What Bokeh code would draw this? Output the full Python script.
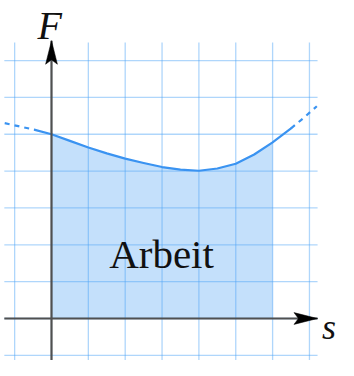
from bokeh.plotting import figure
from bokeh.models import Range1d
from bokeh.core.properties import value
from bokeh.embed import file_html
from bokeh.resources import INLINE

# ---- data ----
grid_s = [-1, 0, 1, 2, 3, 4, 5, 6, 7]
grid_F = [-1, 0, 1, 2, 3, 4, 5, 6, 7]

curve_s = [-1.27, -0.9, -0.45, 0, 0.5, 1, 1.5, 2, 2.5, 3, 3.5, 4, 4.5, 5, 5.5, 6, 6.5, 6.85, 7.2]
curve_F = [5.3, 5.22, 5.12, 5.0, 4.82, 4.64, 4.48, 4.34, 4.22, 4.11, 4.04, 4.01, 4.07, 4.2, 4.45, 4.78, 5.16, 5.45, 5.76]

work_from = 0
work_to = 6
solid_from = -0.45
solid_to = 6.5

axis_s = [-1.28, 7.22]   # x axis extent
axis_F = [-1.6, 7.54]    # y axis extent
grid_s_ext = [-1.28, 7.22]
grid_F_ext = [-1.6, 7.49]

labels = {"F": "F", "s": "s", "area": "Arbeit"}

# ---- figure ----
u = 36.85
W, H = 338, 360
ox, oy = 51, 318  # origin pixel inside figure
p = figure(width=W, height=H, output_backend="svg", toolbar_location=None,
           x_range=Range1d(-ox / u, (W - ox) / u), y_range=Range1d(-(H - oy) / u, oy / u),
           min_border=0, outline_line_color=None, background_fill_color="white",
           border_fill_color="white")
p.axis.visible = False
p.grid.visible = False

# area under curve
idx = [i for i, s in enumerate(curve_s) if work_from <= s <= work_to]
p.varea(x=[curve_s[i] for i in idx], y1=[0] * len(idx), y2=[curve_F[i] for i in idx],
        fill_color="#c4e0fb", fill_alpha=1.0)

# grid
gcol = "#4da3f7"
for s in grid_s:
    p.line([s, s], grid_F_ext, line_color=gcol, line_alpha=0.45, line_width=1.3)
for f in grid_F:
    p.line(grid_s_ext, [f, f], line_color=gcol, line_alpha=0.45, line_width=1.3)

# curve
ccol = "#3a93f1"
left = [i for i, s in enumerate(curve_s) if s <= solid_from]
mid = [i for i, s in enumerate(curve_s) if solid_from <= s <= solid_to]
right = [i for i, s in enumerate(curve_s) if s >= solid_to]
for seg, dash in ((left, "5 5"), (right, "5 5"), (mid, "solid")):
    p.line([curve_s[i] for i in seg], [curve_F[i] for i in seg], line_color=ccol,
           line_width=2.2, line_dash=dash, line_join="round",
           line_cap="round" if dash == "solid" else "butt")

# axes
acol = "#505050"
p.line(axis_s, [0, 0], line_color=acol, line_width=2.2)
p.line([0, 0], axis_F, line_color=acol, line_width=2.2)

# arrowheads (LaTeX style)
L, hw, notch = 0.64, 0.16, 0.12
tx = axis_s[1]
p.patch([tx, tx - L, tx - L + notch, tx - L], [0, hw, 0, -hw], fill_color="black", line_color="black", line_width=0.5)
ty = axis_F[1]
p.patch([0, hw, 0, -hw], [ty, ty - L, ty - L + notch, ty - L], fill_color="black", line_color="black", line_width=0.5)

# labels
font = value("Liberation Serif")
p.text(x=[-0.05], y=[(oy - 2) / u], text=[labels["F"]], text_font=font, text_font_style="italic",
       text_font_size="40px", text_align="center", text_baseline="top", text_color="#111111")
p.text(x=[7.34], y=[-0.24], text=[labels["s"]], text_font=font, text_font_style="italic",
       text_font_size="36px", text_align="left", text_baseline="alphabetic", text_color="#111111")
p.text(x=[2.985], y=[1.76], text=[labels["area"]], text_font=font,
       text_font_size="41px", text_align="center", text_baseline="alphabetic", text_color="#111111")

open("out.html", "w").write(file_html(p, INLINE))
